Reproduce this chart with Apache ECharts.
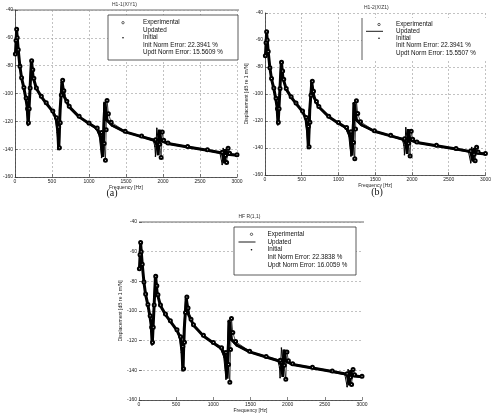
<!DOCTYPE html>
<html lang="en">
<head>
    <meta charset="UTF-8">
    <title>FRF updating comparison</title>
    <script src="https://cdn.jsdelivr.net/npm/echarts@6/dist/echarts.min.js"></script>
    <style>
        html, body { margin: 0; padding: 0; background: #fff; }
    </style>
</head>
<body>
<div id="chart" style="width: 494px;height: 415px"></div>
<script type="text/javascript">
    // frequency axis ticks (Hz) and dB axis ticks
    var freqTicks = [0, 500, 1000, 1500, 2000, 2500, 3000];
    var dbTicks = [-160, -140, -120, -100, -80, -60, -40];

    // Experimental (measured) FRF
    var expFreq = [5, 14, 22, 30, 44, 67, 89, 120, 150, 170, 182, 192, 205, 225, 240, 255, 289, 356, 422, 511, 560, 590, 600, 612, 626, 644, 660, 700, 733, 867, 1000, 1111, 1170, 1205, 1222, 1232, 1244, 1262, 1300, 1489, 1711, 1900, 1955, 1975, 1990, 2010, 2067, 2333, 2600, 2800, 2845, 2860, 2880, 2900, 3000];
    var expDb = [-71.6, -62, -53.8, -60, -68.5, -80.5, -88.6, -95.6, -103.2, -111, -121, -111, -96, -76.5, -83, -89, -96, -102, -106.6, -112.6, -117.4, -124, -139, -121, -101, -90.5, -98, -105.6, -109.2, -116.4, -121.2, -124.8, -128, -136, -148, -126, -105, -114.5, -120.6, -127.2, -130.6, -133.2, -136.5, -146, -127.6, -133.6, -135.6, -138, -140.4, -142.3, -144.6, -149.5, -139.4, -143, -144];

    // Updated model FRF
    var updFreq = [5, 22, 44, 67, 89, 120, 147, 164, 178, 200, 222, 244, 289, 356, 422, 511, 556, 578, 591, 609, 636, 667, 733, 867, 1000, 1111, 1160, 1185, 1200, 1213, 1244, 1311, 1489, 1711, 1880, 1920, 1935, 1950, 1970, 2067, 2333, 2600, 2800, 2830, 2845, 2870, 3000];
    var updDb = [-72.4, -54.4, -68.8, -80.8, -89, -96, -103.6, -109.6, -122.8, -100, -75.5, -88, -96.4, -102.4, -107, -113, -118, -127, -140.8, -112, -91.6, -102.4, -109.6, -116.8, -121.6, -125.2, -131, -145.6, -129, -106, -119, -122.8, -127.6, -131, -133.6, -137, -144.4, -126, -133.6, -136, -138.4, -140.8, -142.7, -150, -140, -143.7, -144.4];

    // Initial model FRF
    var iniFreq = [5, 22, 44, 67, 89, 120, 147, 160, 175, 195, 215, 240, 289, 356, 422, 511, 550, 570, 585, 603, 625, 660, 733, 867, 1000, 1100, 1140, 1170, 1185, 1200, 1230, 1311, 1489, 1711, 1870, 1890, 1898, 1916, 1935, 2067, 2333, 2600, 2770, 2800, 2813, 2840, 3000];
    var iniDb = [-72, -54, -69, -81, -89.5, -96.5, -104, -110, -123, -100, -76, -88, -96.8, -102.8, -107.4, -113.6, -119, -128, -140, -112, -92, -102, -110, -117.2, -122, -125.8, -131, -146, -130, -107, -119.5, -123.4, -128, -131.4, -134, -138, -145, -125, -133.8, -136.4, -138.8, -141.2, -143, -151, -139.6, -143.9, -144.8];

    var panelTitles = ['H1-1(X/Y1)', 'H1-2(X/Z1)', 'HF R(1,1)'];
    var initErrors = ['22.3941', '22.3941', '22.3838'];
    var updtErrors = ['15.5609', '15.5507', '16.0059'];

    // panel placement (pixels)
    var panels = [
        {left: 11, top: 10, width: 226, height: 167, yName: '', xSplit: true, yLine: true},
        {left: 265, top: 13, width: 222, height: 162, yName: 'Displacement [dB re 1 m/N]', xSplit: true, yLine: true},
        {left: 139, top: 222, width: 223, height: 178, yName: 'Displacement [dB re 1 m/N]', xSplit: false, yLine: false}
    ];

    function pairs(xs, ys) {
        return xs.map(function (x, i) { return [x, ys[i]]; });
    }

    function plain(v) {
        return String(v);
    }

    var smallFont = {fontFamily: 'Liberation Sans', fontSize: 5, color: '#222'};
    var gridLine = {lineStyle: {color: '#9a9a9a', type: [2, 2], width: 0.6}};

    var grids = [], xAxes = [], yAxes = [], series = [], graphics = [];

    panels.forEach(function (p, i) {
        grids.push({left: p.left, top: p.top, width: p.width, height: p.height});
        xAxes.push({
            gridIndex: i, type: 'value',
            min: freqTicks[0], max: freqTicks[freqTicks.length - 1], interval: freqTicks[1] - freqTicks[0],
            name: 'Frequency [Hz]', nameLocation: 'middle', nameGap: 8,
            nameTextStyle: smallFont,
            axisLine: {lineStyle: {color: '#333', width: 0.8}},
            axisTick: {inside: true, length: 3, lineStyle: {color: '#333', width: 0.6}},
            axisLabel: Object.assign({margin: 2, formatter: plain}, smallFont),
            splitLine: Object.assign({show: p.xSplit}, gridLine)
        });
        yAxes.push({
            gridIndex: i, type: 'value',
            min: dbTicks[0], max: dbTicks[dbTicks.length - 1], interval: dbTicks[1] - dbTicks[0],
            name: p.yName, nameLocation: 'middle', nameGap: 11,
            nameTextStyle: smallFont,
            axisLine: {show: p.yLine, lineStyle: {color: '#333', width: 0.8}},
            axisTick: {show: true, inside: true, length: 3, lineStyle: {color: '#333', width: 0.6}},
            axisLabel: Object.assign({margin: 2, formatter: plain}, smallFont),
            splitLine: Object.assign({show: true}, gridLine)
        });
        series.push({
            name: 'Experimental', type: 'line', xAxisIndex: i, yAxisIndex: i,
            data: pairs(expFreq, expDb),
            symbol: 'emptyCircle', symbolSize: 3,
            itemStyle: {color: '#000', borderWidth: 0.6},
            lineStyle: {color: '#000', width: 0.7}, z: 3
        });
        series.push({
            name: 'Updated', type: 'line', xAxisIndex: i, yAxisIndex: i,
            data: pairs(updFreq, updDb),
            showSymbol: false,
            lineStyle: {color: '#000', width: 3}, z: 2
        });
        series.push({
            name: 'Initial', type: 'line', xAxisIndex: i, yAxisIndex: i,
            data: pairs(iniFreq, iniDb),
            symbol: 'circle', symbolSize: 1.6,
            itemStyle: {color: '#000'},
            lineStyle: {color: '#000', width: 1}, z: 2
        });

        // panel title
        graphics.push({
            type: 'text', left: p.left + p.width / 2 - 12, top: p.top - 8,
            style: {text: panelTitles[i], font: '5px Liberation Sans', fill: '#333'}
        });
    });

    // top frame lines for (a) and (c)
    [0, 2].forEach(function (k) {
        var p = panels[k];
        graphics.push({
            type: 'line', shape: {x1: p.left, y1: p.top, x2: p.left + p.width + 2, y2: p.top},
            style: {stroke: '#444', lineWidth: 0.8}
        });
    });

    // legend blocks
    var legends = [
        {x: 108, y: 15, w: 130, h: 45, box: true, lineSample: false, mark: 123, text: 143, rows: [22.7, 30, 37.7, 44.8, 52.2]},
        {x: 362, y: 18, w: 125, h: 42, box: false, lineSample: true, mark: 379, text: 396, rows: [24.5, 31.3, 38.3, 45, 53]},
        {x: 234, y: 227, w: 122, h: 48, box: true, lineSample: true, mark: 251.5, text: 267.5, rows: [234.3, 242, 249.7, 257.3, 265]}
    ];

    legends.forEach(function (lg, i) {
        graphics.push({
            type: 'rect', shape: {x: lg.x, y: lg.y, width: lg.w, height: lg.h},
            style: {fill: '#fff', stroke: lg.box ? '#333' : null, lineWidth: 0.8}, z: 10
        });
        if (!lg.box) {
            graphics.push({
                type: 'line', shape: {x1: lg.x, y1: lg.y, x2: lg.x, y2: lg.y + lg.h},
                style: {stroke: '#333', lineWidth: 0.8}, z: 11
            });
        }
        graphics.push({
            type: 'circle', shape: {cx: lg.mark, cy: lg.rows[0], r: 1.2},
            style: {fill: '#fff', stroke: '#000', lineWidth: 0.6}, z: 11
        });
        if (lg.lineSample) {
            graphics.push({
                type: 'line', shape: {x1: lg.mark - 13, y1: lg.rows[1], x2: lg.mark + 4, y2: lg.rows[1]},
                style: {stroke: '#000', lineWidth: 0.9}, z: 11
            });
        }
        graphics.push({
            type: 'circle', shape: {cx: lg.mark, cy: lg.rows[2], r: 0.8},
            style: {fill: '#000'}, z: 11
        });
        var labels = ['Experimental', 'Updated', 'Initial',
            'Init Norm Error: ' + initErrors[i] + ' %',
            'Updt Norm Error: ' + updtErrors[i] + ' %'];
        labels.forEach(function (t, k) {
            graphics.push({
                type: 'text', x: lg.text, y: lg.rows[k], z: 11,
                style: {text: t, font: '6.3px Liberation Sans', fill: '#111', verticalAlign: 'middle'}
            });
        });
    });

    // sub-figure captions
    graphics.push({type: 'text', x: 112, y: 193, style: {text: '(a)', font: '10px Liberation Serif', fill: '#111', align: 'center', verticalAlign: 'middle'}});
    graphics.push({type: 'text', x: 377, y: 192, style: {text: '(b)', font: '10px Liberation Serif', fill: '#111', align: 'center', verticalAlign: 'middle'}});

    var echart = echarts.init(document.getElementById('chart'));
    echart.setOption({
        animation: false,
        grid: grids,
        xAxis: xAxes,
        yAxis: yAxes,
        series: series,
        graphic: graphics
    });
</script>
</body>
</html>
